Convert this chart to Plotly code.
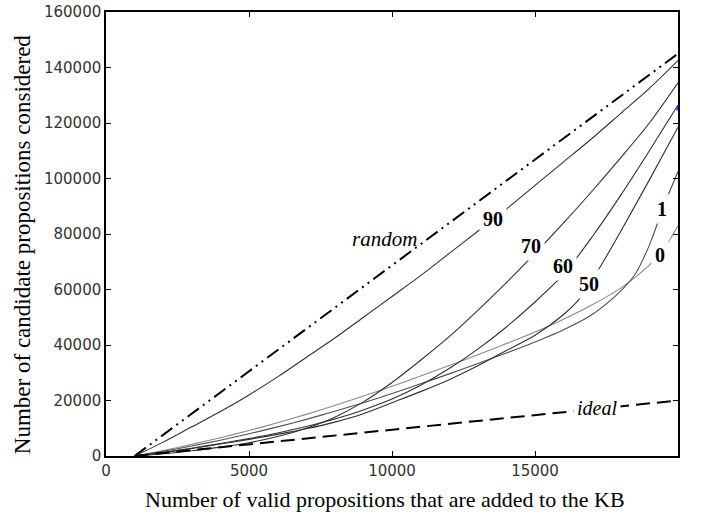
import plotly.graph_objects as go

# ---- data ----
random_x = [1000, 20000]
random_y = [0, 145000]

ideal_x = [1000, 20000]
ideal_y = [0, 20000]

c90_x = [1000, 2000, 3000, 4000, 5000, 6000, 7000, 8000, 9000, 10000, 11000, 12000, 13000,
         14000, 15000, 16000, 17000, 18000, 19000, 20000]
c90_y = [0, 5000, 10500, 16000, 22000, 28500, 35500, 42500, 50000, 57500, 65000, 73000, 81000,
         89000, 97500, 106000, 114500, 123500, 132500, 142500]

c70_x = [1000, 2000, 3000, 4000, 5000, 6000, 7000, 8000, 9000, 10000, 11000, 12000, 13000,
         14000, 15000, 16000, 17000, 18000, 19000, 20000]
c70_y = [0, 800, 1900, 3200, 4800, 7000, 10000, 14000, 19500, 26500, 34500, 43000, 52500,
         62500, 73000, 84000, 95500, 107500, 120000, 134500]

c60_x = [1000, 2000, 3000, 4000, 5000, 6000, 7000, 8000, 9000, 10000, 11000, 12000, 13000,
         14000, 15000, 16000, 17000, 18000, 19000, 20000]
c60_y = [0, 1300, 2800, 4500, 6300, 8300, 10600, 13300, 16600, 20500, 25500, 31500, 38500,
         46500, 55500, 65500, 79000, 94000, 110000, 126500]

c50_x = [1000, 2000, 3000, 4000, 5000, 6000, 7000, 8000, 9000, 10000, 11000, 12000, 13000,
         14000, 15000, 16000, 16500, 17000, 17500, 18000, 19000, 20000]
c50_y = [0, 1250, 2700, 4300, 6000, 7800, 9800, 12200, 15200, 19200, 23200, 27500, 32500,
         38000, 43500, 51000, 56000, 63500, 72000, 81000, 99500, 118500]

c1_x = [1000, 2000, 3000, 4000, 5000, 6000, 7000, 8000, 9000, 10000, 11000, 12000, 13000,
        14000, 15000, 16000, 17000, 18000, 18500, 19000, 19500, 20000]
c1_y = [0, 1700, 3600, 5700, 8000, 10500, 13200, 16100, 19200, 22500, 26000, 29600, 33300,
        37100, 41100, 45500, 51000, 59500, 65500, 76000, 90000, 102500]

c0_x = [1000, 2000, 3000, 4000, 5000, 6000, 7000, 8000, 9000, 10000, 11000, 12000, 13000,
        14000, 15000, 16000, 17000, 18000, 19000, 19500, 20000]
c0_y = [0, 2000, 4200, 6600, 9200, 12000, 15000, 18200, 21600, 25100, 28800, 32600, 36500,
        40500, 44700, 49300, 54500, 60500, 68800, 74500, 83000]

blue_x = [19960, 20000]
blue_y = [124500, 126500]

x_ticks = [0, 5000, 10000, 15000, 20000]
y_ticks = [0, 20000, 40000, 60000, 80000, 100000, 120000, 140000, 160000]

curve_labels = ["90", "70", "60", "50", "1", "0"]
label_x = [13521, 14860, 15979, 16888, 19441, 19353]
label_y = [85450, 75700, 68340, 62060, 88860, 72290]

# ---- figure ----
fig = go.Figure()

def add_line(x, y, color, width=1.1, dash="solid", shape="spline"):
    fig.add_trace(go.Scatter(x=x, y=y, mode="lines",
                             line=dict(color=color, width=width, dash=dash,
                                       shape=shape, smoothing=0.8),
                             hoverinfo="skip", showlegend=False))

add_line(c0_x, c0_y, "#8a8a8a")
add_line(c1_x, c1_y, "#505050")
add_line(c50_x, c50_y, "#303030")
add_line(c60_x, c60_y, "#303030")
add_line(c70_x, c70_y, "#303030")
add_line(c90_x, c90_y, "#303030")
add_line(blue_x, blue_y, "#3030ff", width=1.5, shape="linear")
add_line(ideal_x, ideal_y, "black", width=2, dash="14px,7px", shape="linear")
add_line(random_x, random_y, "black", width=2,
         dash="14px,5px,2px,5px,2px,5px", shape="linear")

serif = "Liberation Serif, Times New Roman, serif"

for t, lx, ly in zip(curve_labels, label_x, label_y):
    fig.add_annotation(x=lx, y=ly, text="<b>%s</b>" % t, showarrow=False,
                       font=dict(family=serif, size=20, color="black"),
                       bgcolor="white", borderpad=3)

fig.add_annotation(x=10950, y=78200, text="<i>random</i>", showarrow=False,
                   xanchor="right", font=dict(family=serif, size=21, color="black"))
fig.add_annotation(x=17168, y=17220, text="<i>ideal</i>", showarrow=False,
                   font=dict(family=serif, size=20, color="black"),
                   bgcolor="white", borderpad=3)

# axis titles
fig.add_annotation(xref="paper", yref="paper", x=0.487, y=-0.099,
                   text="Number of valid propositions that are added to the KB",
                   showarrow=False, xanchor="center", yanchor="middle",
                   font=dict(family=serif, size=22, color="black"))
fig.add_annotation(xref="paper", yref="paper", x=-0.147, y=0.477,
                   text="Number of candidate propositions considered",
                   showarrow=False, textangle=-90, xanchor="center", yanchor="middle",
                   font=dict(family=serif, size=23, color="black"))

axis_common = dict(showgrid=False, zeroline=False, showline=True, linecolor="black",
                   linewidth=1.5, mirror="ticks", ticks="inside", ticklen=5,
                   tickcolor="black", tickwidth=1, automargin=False,
                   tickfont=dict(family="DejaVu Sans, sans-serif", size=15, color="#333333"))

fig.update_xaxes(range=[0, 20000], tickvals=x_ticks, ticktext=[str(v) for v in x_ticks],
                 **axis_common)
fig.update_yaxes(range=[0, 160000], tickvals=y_ticks, ticktext=[str(v) for v in y_ticks],
                 **axis_common)

fig.update_layout(width=701, height=514, margin=dict(l=106, r=23, t=12, b=58),
                  plot_bgcolor="white", paper_bgcolor="white")

fig.write_html("out.html")
